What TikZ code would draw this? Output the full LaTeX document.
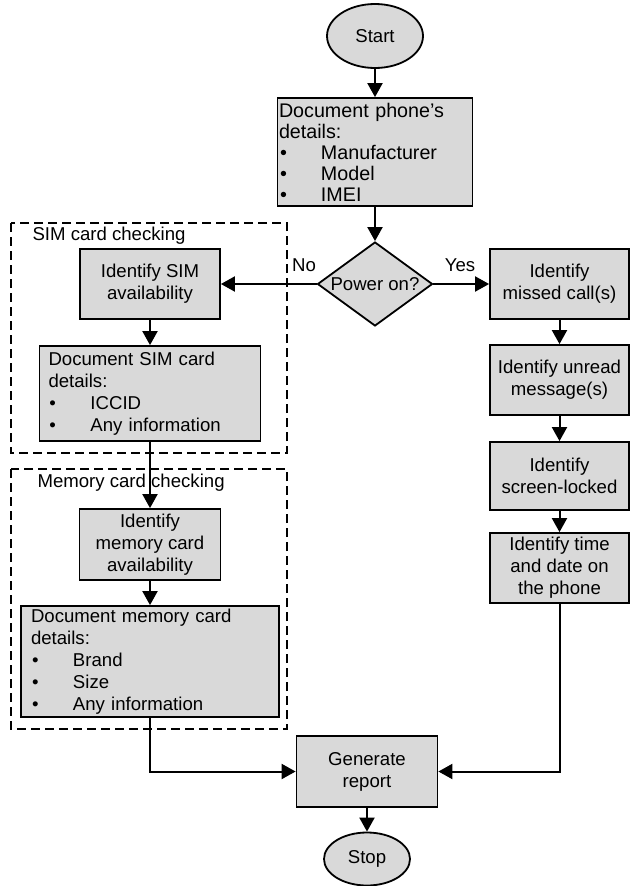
\documentclass[tikz,border=0pt]{standalone}
\usepackage{fontspec}
\setmainfont{Liberation Sans}
\usetikzlibrary{shapes.geometric,arrows.meta}
\newcommand{\bul}[1]{\makebox[42pt][l]{\hspace{1pt}\textbullet}#1}

\begin{document}
\begin{tikzpicture}[x=1pt,y=-1pt,
  font=\fontsize{18.6}{22}\selectfont,
  blk/.style={draw,line width=1.8pt,fill=gray!30,align=center,inner sep=0pt},
  term/.style={blk,ellipse},
  dec/.style={blk,diamond,aspect=1.37},
  grp/.style={line width=1.4pt,dash pattern=on 9pt off 5pt},
  arr/.style={line width=2pt,-{Triangle[width=15pt,length=14pt]}}]
\useasboundingbox (0,0) rectangle (631,886);
\draw[grp] (11,223) rectangle (287,453);
\draw[grp] (11,469) rectangle (287,729);
\node[anchor=west] (simlbl) at (29,236) {SIM card checking};
\node[anchor=west] (memlbl) at (34,483) {Memory card checking};

\node[term,minimum width=96,minimum height=64] (start) at (375,36) {Start};
\node[blk,align=left,text width=192,inner xsep=1.5,minimum height=108,
  font=\fontsize{19.7}{21}\selectfont] (docphone) at (375,152)
  {Document phone’s\\details:\\\bul{Manufacturer}\\\bul{Model}\\\bul{IMEI}};
\node[dec,minimum width=115,minimum height=84] (power) at (375,284) {Power on?};
\node (no) at (304,265) {No};
\node (yes) at (460,265) {Yes};

\node[blk,minimum width=140,minimum height=70] (idsim) at (150,284) {Identify SIM\\availability};
\node[blk,align=left,text width=203,inner xsep=9,minimum height=95] (docsim) at (150,393.5)
  {Document SIM card\\details:\\\bul{ICCID}\\\bul{Any information}};
\node[blk,minimum width=141,minimum height=71] (idmem) at (150,544.5) {Identify\\memory card\\availability};
\node[blk,align=left,text width=238,inner xsep=10,minimum height=111] (docmem) at (150,661.5)
  {Document memory card\\details:\\\bul{Brand}\\\bul{Size}\\\bul{Any information}};

\node[blk,minimum width=139,minimum height=70] (missed) at (559.5,284) {Identify\\missed call(s)};
\node[blk,minimum width=139,minimum height=70] (unread) at (559.5,380) {Identify unread\\message(s)};
\node[blk,minimum width=139,minimum height=68] (locked) at (559.5,476) {Identify\\screen-locked};
\node[blk,minimum width=139,minimum height=70] (timedate) at (559.5,568) {Identify time\\and date on\\the phone};

\node[blk,minimum width=141,minimum height=71] (report) at (367,771.5) {Generate\\report};
\node[term,minimum width=86,minimum height=53] (stop) at (367,859) {Stop};

\draw[arr] (start) -- (docphone);
\draw[arr] (docphone) -- (power);
\draw[arr] (power) -- (idsim);
\draw[arr] (power) -- (missed);
\draw[arr] (idsim) -- (docsim);
\draw[arr] (docsim) -- (idmem);
\draw[arr] (idmem) -- (docmem);
\draw[arr] (missed) -- (unread);
\draw[arr] (unread) -- (locked);
\draw[arr] (locked) -- (timedate);
\draw[arr] (docmem.south) |- (report.west);
\draw[arr] (timedate.south) |- (report.east);
\draw[arr] (report) -- (stop);
\end{tikzpicture}
\end{document}
